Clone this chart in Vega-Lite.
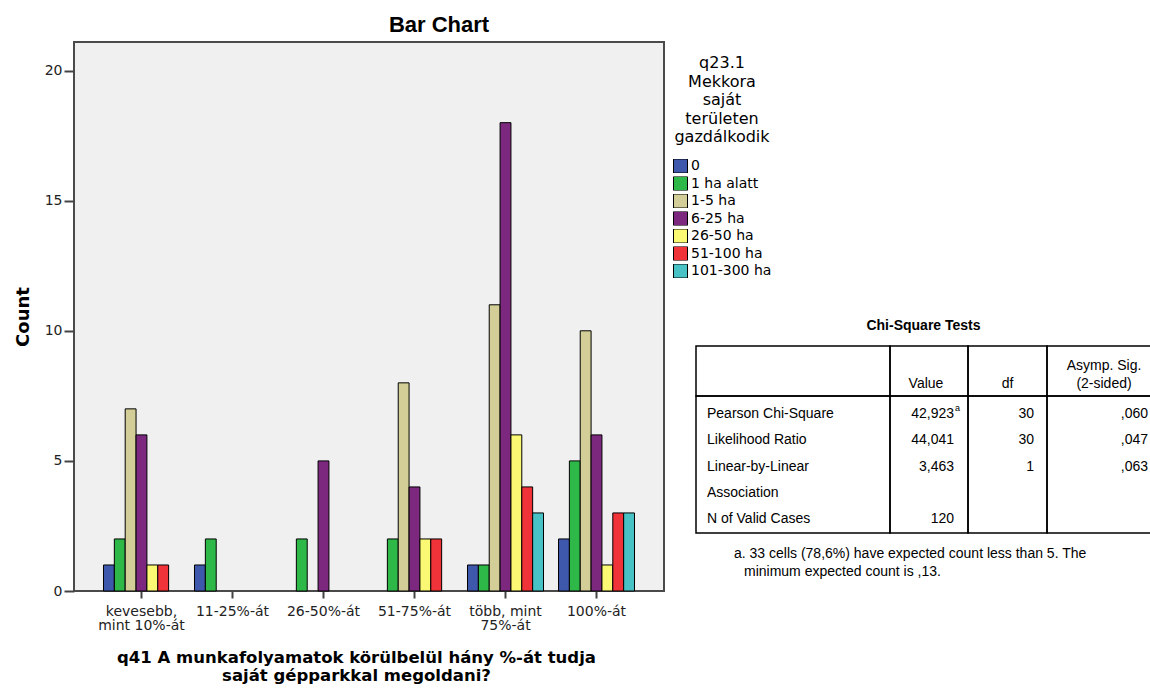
{
  "$schema": "https://vega.github.io/schema/vega-lite/v6.json",
  "padding": {"left": 13, "top": 13, "right": 0, "bottom": 0},
  "background": "white",
  "datasets": {
    "bars": [
      {"cat": "kevesebb, mint 10%-át", "size": "0", "count": 1},
      {"cat": "kevesebb, mint 10%-át", "size": "1 ha alatt", "count": 2},
      {"cat": "kevesebb, mint 10%-át", "size": "1-5 ha", "count": 7},
      {"cat": "kevesebb, mint 10%-át", "size": "6-25 ha", "count": 6},
      {"cat": "kevesebb, mint 10%-át", "size": "26-50 ha", "count": 1},
      {"cat": "kevesebb, mint 10%-át", "size": "51-100 ha", "count": 1},
      {"cat": "11-25%-át", "size": "0", "count": 1},
      {"cat": "11-25%-át", "size": "1 ha alatt", "count": 2},
      {"cat": "26-50%-át", "size": "1 ha alatt", "count": 2},
      {"cat": "26-50%-át", "size": "6-25 ha", "count": 5},
      {"cat": "51-75%-át", "size": "1 ha alatt", "count": 2},
      {"cat": "51-75%-át", "size": "1-5 ha", "count": 8},
      {"cat": "51-75%-át", "size": "6-25 ha", "count": 4},
      {"cat": "51-75%-át", "size": "26-50 ha", "count": 2},
      {"cat": "51-75%-át", "size": "51-100 ha", "count": 2},
      {"cat": "több, mint 75%-át", "size": "0", "count": 1},
      {"cat": "több, mint 75%-át", "size": "1 ha alatt", "count": 1},
      {"cat": "több, mint 75%-át", "size": "1-5 ha", "count": 11},
      {"cat": "több, mint 75%-át", "size": "6-25 ha", "count": 18},
      {"cat": "több, mint 75%-át", "size": "26-50 ha", "count": 6},
      {"cat": "több, mint 75%-át", "size": "51-100 ha", "count": 4},
      {"cat": "több, mint 75%-át", "size": "101-300 ha", "count": 3},
      {"cat": "100%-át", "size": "0", "count": 2},
      {"cat": "100%-át", "size": "1 ha alatt", "count": 5},
      {"cat": "100%-át", "size": "1-5 ha", "count": 10},
      {"cat": "100%-át", "size": "6-25 ha", "count": 6},
      {"cat": "100%-át", "size": "26-50 ha", "count": 1},
      {"cat": "100%-át", "size": "51-100 ha", "count": 3},
      {"cat": "100%-át", "size": "101-300 ha", "count": 3}
    ],
    "cells": [
      {"sec": "head", "c": "value", "t": "Value"},
      {"sec": "head", "c": "df", "t": "df"},
      {"sec": "head", "c": "sig", "t": "Asymp. Sig.\n(2-sided)"},
      {"sec": "body", "r": 1, "c": "label", "t": "Pearson Chi-Square"},
      {"sec": "body", "r": 1, "c": "value", "t": "42,923", "sup": "a"},
      {"sec": "body", "r": 1, "c": "df", "t": "30"},
      {"sec": "body", "r": 1, "c": "sig", "t": ",060"},
      {"sec": "body", "r": 2, "c": "label", "t": "Likelihood Ratio"},
      {"sec": "body", "r": 2, "c": "value", "t": "44,041"},
      {"sec": "body", "r": 2, "c": "df", "t": "30"},
      {"sec": "body", "r": 2, "c": "sig", "t": ",047"},
      {"sec": "body", "r": 3, "c": "label", "t": "Linear-by-Linear"},
      {"sec": "body", "r": 3, "c": "value", "t": "3,463"},
      {"sec": "body", "r": 3, "c": "df", "t": "1"},
      {"sec": "body", "r": 3, "c": "sig", "t": ",063"},
      {"sec": "body", "r": 4, "c": "label", "t": "Association"},
      {"sec": "body", "r": 5, "c": "label", "t": "N of Valid Cases"},
      {"sec": "body", "r": 5, "c": "value", "t": "120"},
      {"sec": "foot", "r": 1, "t": "a. 33 cells (78,6%) have expected count less than 5. The"},
      {"sec": "foot", "r": 2, "t": "minimum expected count is ,13."}
    ]
  },
  "config": {
    "font": "DejaVu Sans",
    "view": {"stroke": null},
    "text": {"color": "#000"}
  },
  "resolve": {"scale": {"color": "independent"}, "legend": {"color": "independent"}},
  "bounds": "flush",
  "spacing": 32,
  "hconcat": [
    {
      "width": 590,
      "height": 549,
      "view": {"fill": "#f0f0f0", "stroke": "#4a4a4a", "strokeWidth": 2},
      "title": {"text": "Bar Chart", "font": "Liberation Sans", "fontSize": 22, "fontWeight": "bold", "color": "#000", "anchor": "middle", "frame": "group", "dx": 70, "offset": 5},
      "data": {"name": "bars"},
      "mark": {"type": "bar", "stroke": "#000", "strokeWidth": 1},
      "encoding": {
        "x": {
          "field": "cat", "type": "nominal",
          "sort": ["kevesebb, mint 10%-át", "11-25%-át", "26-50%-át", "51-75%-át", "több, mint 75%-át", "100%-át"],
          "scale": {"paddingInner": 0.165, "paddingOuter": 0.324},
          "axis": {
            "title": ["q41 A munkafolyamatok körülbelül hány %-át tudja", "saját gépparkkal megoldani?"],
            "titleFont": "DejaVu Sans", "titleFontSize": 16.5, "titleFontWeight": "bold", "titleColor": "#000",
            "titleLineHeight": 18, "titlePadding": 17, "titleX": 282,
            "labelFont": "DejaVu Sans", "labelFontSize": 14, "labelColor": "#222", "labelAngle": 0,
            "labelLineHeight": 14, "labelPadding": 6,
            "labelExpr": "datum.value == 'kevesebb, mint 10%-át' ? ['kevesebb,', 'mint 10%-át'] : datum.value == 'több, mint 75%-át' ? ['több, mint', '75%-át'] : datum.label",
            "tickSize": 7, "tickWidth": 2, "tickColor": "#444", "domain": false, "grid": false
          }
        },
        "xOffset": {
          "field": "size", "type": "nominal",
          "scale": {"domain": ["0", "1 ha alatt", "1-5 ha", "6-25 ha", "26-50 ha", "51-100 ha", "101-300 ha"], "paddingInner": 0, "paddingOuter": 0}
        },
        "y": {
          "field": "count", "type": "quantitative",
          "scale": {"domain": [0, 21.1], "nice": false},
          "axis": {
            "title": "Count", "titleFont": "DejaVu Sans", "titleFontSize": 18, "titleFontWeight": "bold", "titleColor": "#000", "titlePadding": 12,
            "values": [0, 5, 10, 15, 20],
            "labelFont": "DejaVu Sans", "labelFontSize": 14, "labelColor": "#222", "labelPadding": 2,
            "tickSize": 10, "tickWidth": 2, "tickColor": "#444", "domain": false, "grid": false
          }
        },
        "color": {
          "field": "size", "type": "nominal",
          "scale": {
            "domain": ["0", "1 ha alatt", "1-5 ha", "6-25 ha", "26-50 ha", "51-100 ha", "101-300 ha"],
            "range": ["#3e58ac", "#2eb848", "#d3ce97", "#7b287e", "#fbf873", "#ef3338", "#48c2c5"]
          },
          "legend": {
            "orient": "right", "offset": -4, "padding": 13,
            "title": ["q23.1", "Mekkora", "saját", "területen", "gazdálkodik"],
            "titleFont": "DejaVu Sans", "titleFontSize": 16, "titleFontWeight": "normal", "titleColor": "#000",
            "titleAlign": "center", "titleAnchor": "middle", "titleLineHeight": 18.5, "titlePadding": 14,
            "labelFont": "DejaVu Sans", "labelFontSize": 14, "labelColor": "#000", "labelOffset": 3,
            "symbolType": "square", "symbolSize": 196, "symbolStrokeColor": "#000", "symbolStrokeWidth": 1,
            "clipHeight": 14, "rowPadding": 3.5
          }
        }
      }
    },
    {
      "spacing": 0,
      "vconcat": [
        {
          "width": 455, "height": 277,
          "data": {"values": []},
          "mark": "text",
          "encoding": {}
        },
        {
          "title": {"text": "Chi-Square Tests", "font": "Liberation Sans", "fontSize": 14, "fontWeight": "bold", "color": "#000", "anchor": "middle", "offset": 12},
          "bounds": "flush",
          "spacing": 0,
          "columns": 4,
          "align": "each",
          "concat": [
            {
              "width": 194, "height": 50,
              "view": {"stroke": "#000", "strokeWidth": 1.5},
              "data": {"name": "cells"},
              "transform": [{"filter": "datum.sec == 'head' && datum.c == 'label'"}],
              "mark": {"type": "text", "font": "Liberation Sans", "fontSize": 14},
              "encoding": {"text": {"field": "t"}}
            },
            {
              "width": 78, "height": 50,
              "view": {"stroke": "#000", "strokeWidth": 1.5},
              "data": {"name": "cells"},
              "transform": [{"filter": "datum.sec == 'head' && datum.c == 'value'"}],
              "mark": {"type": "text", "font": "Liberation Sans", "fontSize": 14, "align": "center", "baseline": "bottom", "lineBreak": "\n", "lineHeight": 18, "dy": -5, "dx": -3},
              "encoding": {"y": {"value": "height"}, "text": {"field": "t"}}
            },
            {
              "width": 79, "height": 50,
              "view": {"stroke": "#000", "strokeWidth": 1.5},
              "data": {"name": "cells"},
              "transform": [{"filter": "datum.sec == 'head' && datum.c == 'df'"}],
              "mark": {"type": "text", "font": "Liberation Sans", "fontSize": 14, "align": "center", "baseline": "bottom", "lineBreak": "\n", "lineHeight": 18, "dy": -5},
              "encoding": {"y": {"value": "height"}, "text": {"field": "t"}}
            },
            {
              "width": 104, "height": 50,
              "view": {"stroke": "#000", "strokeWidth": 1.5},
              "data": {"name": "cells"},
              "transform": [{"filter": "datum.sec == 'head' && datum.c == 'sig'"}],
              "mark": {"type": "text", "font": "Liberation Sans", "fontSize": 14, "align": "center", "baseline": "bottom", "lineBreak": "\n", "lineHeight": 18, "dy": -23, "dx": 5},
              "encoding": {"y": {"value": "height"}, "text": {"field": "t"}}
            },
            {
              "width": 194, "height": 137,
              "view": {"stroke": "#000", "strokeWidth": 1.5},
              "data": {"name": "cells"},
              "transform": [{"filter": "datum.sec == 'body' && datum.c == 'label'"}],
              "mark": {"type": "text", "font": "Liberation Sans", "fontSize": 14, "align": "left", "baseline": "middle", "dx": 11, "dy": 2},
              "encoding": {
                "x": {"value": 0},
                "y": {"field": "r", "type": "ordinal", "scale": {"domain": [1, 2, 3, 4, 5], "padding": 0.585}, "axis": null},
                "text": {"field": "t"}
              }
            },
            {
              "width": 78, "height": 137,
              "view": {"stroke": "#000", "strokeWidth": 1.5},
              "data": {"name": "cells"},
              "transform": [{"filter": "datum.sec == 'body' && datum.c == 'value'"}],
              "encoding": {
                "x": {"value": "width"},
                "y": {"field": "r", "type": "ordinal", "scale": {"domain": [1, 2, 3, 4, 5], "padding": 0.585}, "axis": null}
              },
              "layer": [
                {
                  "mark": {"type": "text", "font": "Liberation Sans", "fontSize": 14, "align": "right", "baseline": "middle", "dx": -14, "dy": 2},
                  "encoding": {"text": {"field": "t"}}
                },
                {
                  "transform": [{"filter": "isValid(datum.sup)"}],
                  "mark": {"type": "text", "font": "Liberation Sans", "fontSize": 9, "align": "left", "baseline": "middle", "dx": -13, "dy": -4},
                  "encoding": {"text": {"field": "sup"}}
                }
              ]
            },
            {
              "width": 79, "height": 137,
              "view": {"stroke": "#000", "strokeWidth": 1.5},
              "data": {"name": "cells"},
              "transform": [{"filter": "datum.sec == 'body' && datum.c == 'df'"}],
              "mark": {"type": "text", "font": "Liberation Sans", "fontSize": 14, "align": "right", "baseline": "middle", "dx": -13, "dy": 2},
              "encoding": {
                "x": {"value": "width"},
                "y": {"field": "r", "type": "ordinal", "scale": {"domain": [1, 2, 3, 4, 5], "padding": 0.585}, "axis": null},
                "text": {"field": "t"}
              }
            },
            {
              "width": 104, "height": 137,
              "view": {"stroke": "#000", "strokeWidth": 1.5},
              "data": {"name": "cells"},
              "transform": [{"filter": "datum.sec == 'body' && datum.c == 'sig'"}],
              "mark": {"type": "text", "font": "Liberation Sans", "fontSize": 14, "align": "right", "baseline": "middle", "dx": -3, "dy": 2},
              "encoding": {
                "x": {"value": "width"},
                "y": {"field": "r", "type": "ordinal", "scale": {"domain": [1, 2, 3, 4, 5], "padding": 0.585}, "axis": null},
                "text": {"field": "t"}
              }
            }
          ]
        },
        {
          "width": 455, "height": 54,
          "data": {"name": "cells"},
          "transform": [{"filter": "datum.sec == 'foot'"}],
          "encoding": {
            "x": {"value": 0},
            "y": {"field": "r", "type": "ordinal", "scale": {"domain": [1, 2], "padding": 1}, "axis": null},
            "text": {"field": "t"}
          },
          "layer": [
            {
              "transform": [{"filter": "datum.r == 1"}],
              "mark": {"type": "text", "font": "Liberation Sans", "fontSize": 14, "align": "left", "baseline": "middle", "dx": 38, "dy": 2}
            },
            {
              "transform": [{"filter": "datum.r == 2"}],
              "mark": {"type": "text", "font": "Liberation Sans", "fontSize": 14, "align": "left", "baseline": "middle", "dx": 48, "dy": 2}
            }
          ]
        }
      ]
    }
  ]
}
